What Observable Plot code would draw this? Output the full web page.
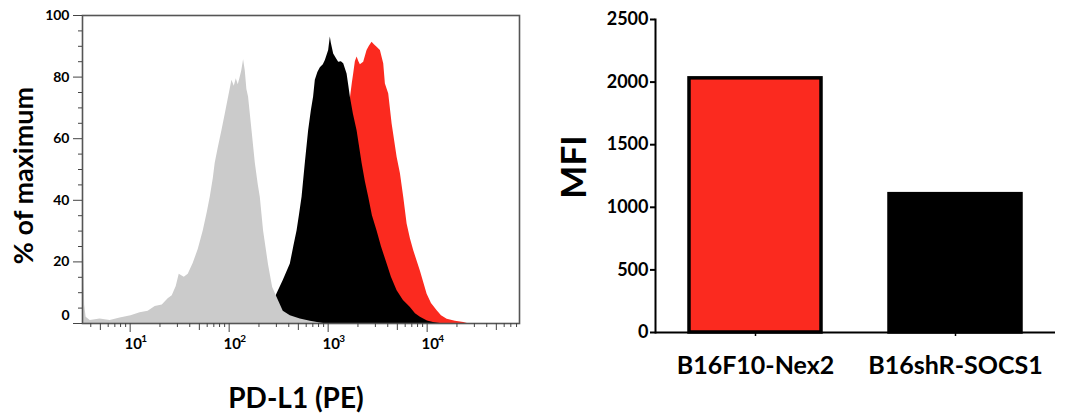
<!DOCTYPE html>
<html><head><meta charset="utf-8">
<script src="https://cdn.jsdelivr.net/npm/d3@7"></script>
<script src="https://cdn.jsdelivr.net/npm/@observablehq/plot@0.6"></script>
<style>
body{margin:0;background:#fff;}
#wrap{position:relative;width:1068px;height:416px;background:#fff;}
#left,#right{position:absolute;top:0;}
#left{left:0}#right{left:540px}
</style></head><body><div id="wrap"><div id="left"></div><div id="right"></div></div>
<script>
// ---- Histogram data (PD-L1 PE intensity, % of maximum) ----
const isotypeX = [3.3, 3.37, 3.47, 3.59, 3.95, 4.97, 6.28, 7.92, 10.2, 12.6, 15.2, 17.9, 21.1, 24.2, 26.6, 29.2, 31.3, 35.2, 38.6, 43.3, 48.7, 54.7, 60.1, 64.4, 69.1, 72.3, 77.6, 84.5, 91.4, 98, 106.7, 112.6, 118, 123.6, 129.5, 134, 139.9, 145.5, 151, 157, 170.2, 183.8, 196.9, 206.3, 222.7, 250, 275, 304, 352, 415, 523, 661, 834, 900];
const isotypeY = [57, 26, 6, 2, 1, 1.5, 1, 1.8, 2.5, 3.5, 4, 5.5, 6, 8, 9, 12, 16, 15, 16, 19.5, 24, 30, 36, 41, 47, 52, 57, 62.6, 68, 73, 79, 77, 79.5, 77.5, 80, 82, 85.6, 82, 76, 73.5, 62.6, 52, 45, 41, 30, 19, 11.7, 8.5, 4, 2.5, 1.5, 0.7, 0.2, 0];
const socs1X = [129, 184, 232, 273, 304, 352, 415, 450, 485, 512, 545, 588, 635, 676, 713, 742, 787, 834, 894, 937, 1012, 1052, 1077, 1137, 1210, 1277, 1360, 1436, 1553, 1619, 1676, 1798, 1960, 2202, 2377, 2569, 2800, 3121, 3449, 3943, 4357, 4973, 5759, 6776, 7620, 8554, 10070, 11580, 13610];
const socs1Y = [0, 1, 3, 6, 9.6, 14, 19.3, 25, 30, 35, 41, 52, 62.6, 69, 73.5, 79, 81.5, 83, 84, 85.4, 88.6, 93, 91, 87.5, 86, 84.8, 85, 84.3, 81, 77, 73.5, 68, 62.6, 52, 46, 41, 35, 30, 25, 19.3, 15, 10.6, 7.5, 5.2, 3.2, 2, 0.8, 0.3, 0];
const nex2X = [292, 369, 466, 588, 742, 937, 1183, 1392, 1564, 1676, 1755, 1811, 1883, 1960, 2044, 2116, 2286, 2472, 2608, 2777, 2931, 3121, 3371, 3642, 3787, 4092, 4428, 4973, 5373, 5800, 6275, 6776, 7323, 8554, 10000, 11060, 12620, 13960, 15930, 19320, 23440, 25520];
const nex2Y = [0, 1, 4, 10, 20, 33, 48, 60, 68, 73, 78, 81, 85, 86.5, 85, 84, 84.8, 88.6, 90, 91.3, 90.5, 89.7, 88.6, 84.3, 77.8, 74.5, 64.8, 54, 48.6, 41, 32.3, 27.5, 23.6, 17, 9.5, 6.5, 4.1, 2.5, 1.4, 0.7, 0.3, 0];

// ---- Histogram axes ----
const histYMajor = [0, 20, 40, 60, 80, 100];
const histYMinor = d3.range(5, 100, 5).filter(v => v % 20 !== 0);
const histXMajor = [10, 100, 1000, 10000];
const histXExp = ["1", "2", "3", "4"];
const histXDomain = [3.3, 85700];

// ---- Bar chart data ----
const barCategories = ["B16F10-Nex2", "B16shR-SOCS1"];
const barValues = [2030, 1105];
const barYTicks = [0, 500, 1000, 1500, 2000, 2500];

const RED = "#fb2a1f", GRAY = "#cbcbcb";
const FONT = "Lato, 'Open Sans', sans-serif";
const rows = (xs, ys) => xs.map((x, i) => ({x, y: ys[i]}));

// log minor ticks
const xFive = [], xMinor = [];
for (let e = 0; e <= 4; e++) for (let k = 2; k <= 9; k++) {
  const v = k * 10 ** e;
  if (v < histXDomain[0] || v > histXDomain[1]) continue;
  (k === 5 ? xFive : xMinor).push(v);
}

const left = Plot.plot({
  width: 540, height: 416,
  marginLeft: 82, marginRight: 21, marginTop: 15, marginBottom: 93,
  style: {fontFamily: FONT, background: "white", color: "#000"},
  x: {type: "log", domain: histXDomain},
  y: {domain: [0, 100]},
  marks: [
    Plot.areaY(rows(nex2X, nex2Y), {x: "x", y: "y", fill: RED, clip: true}),
    Plot.areaY(rows(socs1X, socs1Y), {x: "x", y: "y", fill: "#000", clip: true}),
    Plot.areaY(rows(isotypeX, isotypeY), {x: "x", y: "y", fill: GRAY, clip: true}),
    Plot.frame({stroke: "#555", strokeWidth: 1.6}),
    Plot.axisY(histYMinor, {tickSize: 4, tickFormat: () => "", stroke: "#444", label: null}),
    Plot.axisY(histYMajor, {tickSize: 9, tickPadding: 4, tickFormat: d => d === 0 ? "" : String(d), fontSize: 14, fontWeight: "bold", stroke: "#444", label: null}),
    Plot.text(["0"], {frameAnchor: "bottom-left", dx: -13, dy: -8, textAnchor: "end", lineAnchor: "middle", fontSize: 14, fontWeight: "bold"}),
    Plot.axisX(xMinor, {tickSize: 4, tickFormat: () => "", stroke: "#444", label: null}),
    Plot.axisX(xFive, {tickSize: 7, tickFormat: () => "", stroke: "#444", label: null}),
    Plot.axisX(histXMajor, {tickSize: 9, tickFormat: () => "", stroke: "#444", label: null}),
    Plot.text(histXMajor, {x: d => d, frameAnchor: "bottom", lineAnchor: "middle", text: () => "10", dx: 3, dy: 21, fontSize: 15, fontWeight: "bold"}),
    Plot.text(histXMajor, {x: d => d, frameAnchor: "bottom", lineAnchor: "middle", text: (d, i) => histXExp[i], dx: 11, dy: 15, textAnchor: "start", fontSize: 10, fontWeight: "bold"}),
    Plot.text(["% of maximum"], {frameAnchor: "left", textAnchor: "middle", lineAnchor: "middle", rotate: -90, dx: -58, dy: 6, fontSize: 27, fontWeight: "bold"}),
    Plot.text(["PD-L1 (PE)"], {frameAnchor: "bottom", textAnchor: "middle", lineAnchor: "middle", dx: -5, dy: 76, fontSize: 28, fontWeight: "bold"})
  ]
});
document.getElementById("left").append(left);

const bars = barCategories.map((c, i) => ({cat: c, value: barValues[i]}));
const right = Plot.plot({
  width: 528, height: 416,
  marginLeft: 115, marginRight: 13, marginTop: 19, marginBottom: 84,
  style: {fontFamily: FONT, background: "white", color: "#000"},
  x: {domain: barCategories, paddingInner: 0.34, paddingOuter: 0.17},
  y: {domain: [0, 2500]},
  color: {domain: barCategories, range: [RED, "#000"]},
  marks: [
    Plot.barY(bars, {x: "cat", y: "value", fill: "cat", stroke: "#000", strokeWidth: 3.5}),
    Plot.frame({anchor: "left", stroke: "#000", strokeWidth: 2}),
    Plot.ruleY([0], {stroke: "#000", strokeWidth: 2}),
    Plot.axisY(barYTicks, {tickSize: 5, tickPadding: 2, tickFormat: d => String(d), fontSize: 18, fontWeight: "bold", stroke: "#000", strokeWidth: 2, label: null}),
    Plot.axisX({tickSize: 4, tickFormat: () => "", stroke: "#000", strokeWidth: 1.5, label: null}),
    Plot.text(barCategories, {x: d => d, frameAnchor: "bottom", lineAnchor: "middle", dy: 33, fontSize: 25, fontWeight: "bold"}),
    Plot.text(["MFI"], {frameAnchor: "left", textAnchor: "middle", lineAnchor: "middle", rotate: -90, dx: -81, dy: -9, fontSize: 35, fontWeight: "bold"})
  ]
});
document.getElementById("right").append(right);
</script></body></html>
